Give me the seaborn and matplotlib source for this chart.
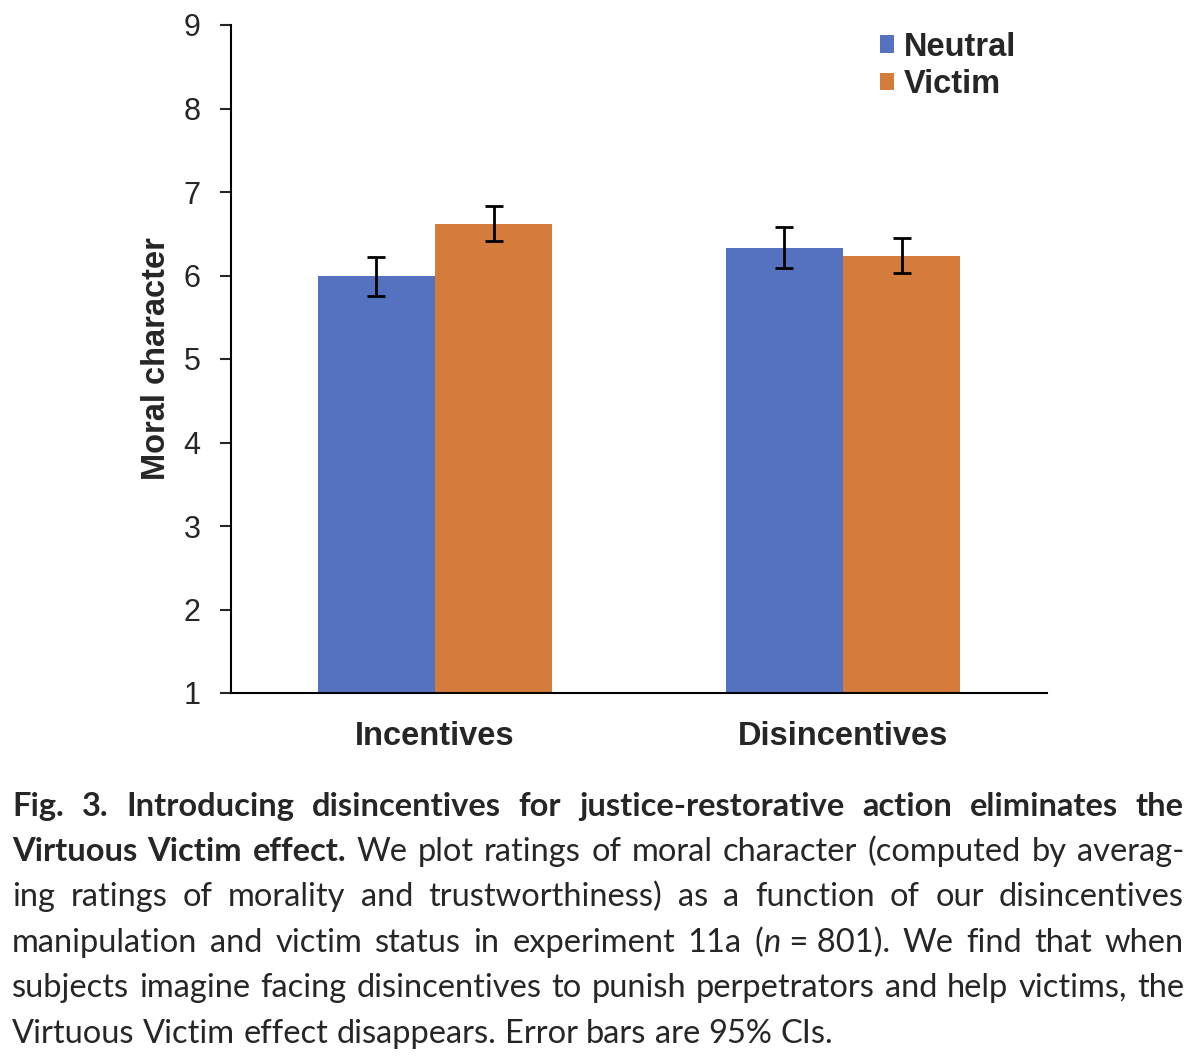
import seaborn as sns
import pandas as pd
import matplotlib.pyplot as plt

# chart values
groups = ["Incentives", "Disincentives"]
conditions = ["Neutral", "Victim"]
neutral_means = [6.00, 6.33]
victim_means = [6.62, 6.23]
neutral_ci = [(5.76, 6.22), (6.09, 6.58)]
victim_ci = [(6.41, 6.83), (6.03, 6.45)]
yticks = [1, 2, 3, 4, 5, 6, 7, 8, 9]

colors = {"Neutral": "#5572C1", "Victim": "#D47C3B"}

rows = []
for i, g in enumerate(groups):
    rows.append({"group": g, "condition": "Neutral", "mean": neutral_means[i],
                 "lo": neutral_ci[i][0], "hi": neutral_ci[i][1]})
    rows.append({"group": g, "condition": "Victim", "mean": victim_means[i],
                 "lo": victim_ci[i][0], "hi": victim_ci[i][1]})
df = pd.DataFrame(rows)

sns.set_style("ticks")
plt.rcParams['font.family'] = ['Liberation Sans', 'DejaVu Sans']

W, H = 1200, 1059
fig = plt.figure(figsize=(W / 100, H / 100), dpi=100)
ax = fig.add_axes([231 / W, 1 - 693 / H, (1047 - 231) / W, (693 - 25) / H])

sns.barplot(data=df, x="group", y="mean", hue="condition", order=groups,
            hue_order=conditions, palette=colors, width=0.575, errorbar=None,
            saturation=1, linewidth=0, ax=ax)

# error bars from the bar patches
for cond, cont in zip(conditions, ax.containers):
    sub = df[df.condition == cond].set_index("group").loc[groups]
    xs = [p.get_x() + p.get_width() / 2 for p in cont.patches]
    ys = sub["mean"].values
    err = [ys - sub["lo"].values, sub["hi"].values - ys]
    ax.errorbar(xs, ys, yerr=err, fmt="none", ecolor="black", elinewidth=2,
                capsize=6.5, capthick=2)

ax.set_ylim(1, 9)
ax.set_xlim(-0.5, 1.5)
ax.set_yticks(yticks)
ax.set_xlabel("")
ax.set_ylabel("Moral character", fontsize=23.5, fontweight="bold", labelpad=8)
ax.tick_params(axis="y", labelsize=22, length=8, width=1.5, pad=14)
ax.tick_params(axis="x", length=0, pad=20)
for lab in ax.get_xticklabels():
    lab.set_fontsize(23.5)
    lab.set_fontweight("bold")
sns.despine(ax=ax)
for s in ["left", "bottom"]:
    ax.spines[s].set_linewidth(1.5)
    ax.spines[s].set_color("black")

leg = ax.legend(loc="upper left", bbox_to_anchor=(0.795, 0.99), frameon=False,
                handlelength=0.44, handleheight=0.44, handletextpad=0.3,
                labelspacing=0.2, borderpad=0, borderaxespad=0,
                prop={"size": 23.5, "weight": "bold"})

# caption, justified like the source
cap_font = "Lato"
cap_size = 23.5
lines = [
    [[("Fig.", "bold")], [("3.", "bold")], [("Introducing", "bold")], [("disincentives", "bold")],
     [("for", "bold")], [("justice-restorative", "bold")], [("action", "bold")],
     [("eliminates", "bold")], [("the", "bold")]],
    [[("Virtuous", "bold")], [("Victim", "bold")], [("effect.", "bold")]]
    + [[(w, "normal")] for w in "We plot ratings of moral character (computed by averag-".split()],
    [[(w, "normal")] for w in "ing ratings of morality and trustworthiness) as a function of our disincentives".split()],
    [[(w, "normal")] for w in "manipulation and victim status in experiment 11a".split()]
    + [[("(", "normal"), ("n", "italic"), (" = 801).", "normal")]]
    + [[(w, "normal")] for w in "We find that when".split()],
    [[(w, "normal")] for w in "subjects imagine facing disincentives to punish perpetrators and help victims, the".split()],
    [[(w, "normal")] for w in "Virtuous Victim effect disappears. Error bars are 95% CIs.".split()],
]
baselines = [816, 861, 906, 952, 997, 1043]
x0, x1 = 12, 1184

renderer = fig.canvas.get_renderer()


def make_text(s, style):
    kw = dict(fontsize=cap_size, family=[cap_font, "DejaVu Sans"], va="baseline", ha="left")
    if style == "bold":
        kw["fontweight"] = "bold"
    if style == "italic":
        kw["fontstyle"] = "italic"
    return fig.text(0, 0, s, **kw)


space_w = make_text("a a", "normal").get_window_extent(renderer).width - \
    make_text("aa", "normal").get_window_extent(renderer).width

for li, (line, base) in enumerate(zip(lines, baselines)):
    words = []
    for word in line:
        parts = []
        for s, st in word:
            t = make_text(s, st)
            parts.append((t, t.get_window_extent(renderer).width))
        words.append(parts)
    widths = [sum(w for _, w in parts) for parts in words]
    if li < len(lines) - 1:
        gap = (x1 - x0 - sum(widths)) / (len(words) - 1)
    else:
        gap = space_w
    x = x0
    y = 1 - base / H
    for parts, ww in zip(words, widths):
        xx = x
        for t, w in parts:
            t.set_position((xx / W, y))
            xx += w
        x += ww + gap

fig.texts = [t for t in fig.texts if t.get_position() != (0, 0)]
fig.savefig("out.png", dpi=100)
